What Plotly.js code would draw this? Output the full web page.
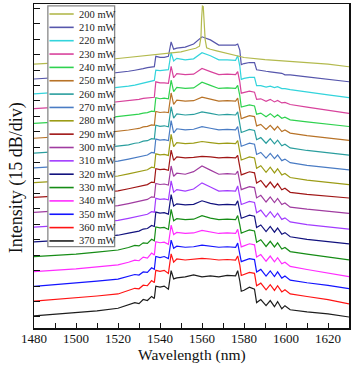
<!DOCTYPE html>
<html>
<head>
<meta charset="utf-8">
<script src="https://cdn.plot.ly/plotly-3.0.1.min.js"></script>
<style>
  body { margin: 0; background: #fff; }
  #spectra { width: 357px; height: 365px; }
</style>
</head>
<body>
<div id="spectra"></div>
<script>
// wavelength grid (nm) shared by 210-370 mW spectra
var wavelength = [1480, 1490, 1500, 1510, 1520, 1525, 1528, 1530, 1532, 1534, 1536, 1537.3, 1538, 1540, 1542, 1544,
  1545.3, 1546.5, 1548, 1552, 1556, 1560, 1564, 1568, 1572, 1576, 1577, 1578, 1578.7, 1580, 1582.6, 1585,
  1586, 1588, 1590.5, 1592.5, 1594.5, 1596, 1598, 1599.5, 1602, 1610, 1620, 1630];

// 200 mW has the lasing line, so its own grid
var wavelength200 = [1480, 1490, 1500, 1510, 1520, 1530, 1540, 1545, 1550, 1554, 1557, 1558.8, 1559.5, 1559.8,
  1560.2, 1560.6, 1561, 1561.5, 1562.2, 1564, 1567, 1570, 1575, 1580, 1590, 1600, 1610, 1620, 1630];

// spectra in dB (before stacking)
var p200 = [-59, -58, -57, -55.5, -53.5, -51.5, -49, -48, -47, -45, -43.5, -41.5, -33, -15, -2.5, -3, -17, -35, -43,
  -44.5, -46, -47.5, -50, -52.5, -54.5, -56, -57.5, -59, -61.5];
var p210 = [-59, -58, -56.5, -55, -53, -51.5, -50.5, -50, -49, -48, -47, -47, -37, -38, -38, -37, -23, -30, -29, -28,
  -25, -18, -21, -26, -26, -26, -25, -31, -45, -44, -43, -43, -50, -51, -51.5, -52, -52.5, -53, -53.5, -55, -55, -57, -59, -61.7];
var p220 = [-59, -58, -56.5, -55, -53, -51.5, -50.5, -49.5, -48.5, -47.5, -46, -46, -36, -36.5, -36, -35.5, -19, -27,
  -24.5, -26, -25, -19, -22, -26, -26, -26.5, -22, -32, -45, -44, -43, -43, -51, -51, -52.5, -51.5, -53, -52, -54, -54, -55, -57.5, -60, -62.7];
var p230 = [-59, -58, -56.5, -54.5, -52.5, -51.5, -50.5, -50, -49, -48.5, -48, -48, -33, -34, -34, -34.5, -18, -29,
  -25, -26, -25.5, -20, -23, -26, -25.5, -26, -23, -33, -44, -43.5, -42, -43, -50, -49.5, -52, -50, -52.5, -51, -53.5, -53, -55, -57.5, -60.5, -63.7];
var p240 = [-59, -58, -56.5, -54.5, -52.5, -51.5, -50.5, -50, -49, -48.5, -47, -47.5, -34, -35, -34.5, -35, -17, -28,
  -24, -25, -24.5, -19, -22, -25, -24.5, -25, -22, -32, -43, -42.5, -41, -42, -50, -49, -52.5, -49.5, -53, -50.5, -54, -53, -55.5, -57.5, -60, -62];
var p250 = [-59, -58, -56.5, -54.5, -52.5, -51, -50, -49.5, -48, -47.5, -46, -46.5, -33, -34, -33.5, -34, -15, -26,
  -22, -23, -22.5, -19, -21, -23, -22.5, -23, -20, -30, -40, -39, -37, -38, -47, -45.5, -50.5, -46.5, -51, -47.5, -52.5, -51, -54, -56.5, -59, -61];
var p260 = [-59, -58, -56.5, -54.5, -52.5, -51, -49.5, -49, -47.5, -47, -45, -45.5, -32, -33, -32.5, -33.5, -14, -25,
  -21, -22, -21.5, -19, -20.5, -22, -21.5, -22, -19, -29, -39, -38, -36, -37, -46, -44, -49.5, -45, -50, -46.5, -52, -50.5, -54, -56.5, -59, -61];
var p270 = [-59, -58, -56.5, -54.5, -52.5, -50.5, -49, -48.5, -47, -46.5, -44, -44.5, -31, -32, -31.5, -32.5, -13, -25,
  -21, -22, -21.5, -19, -20.5, -22, -21.5, -22, -19, -29, -38, -37, -35, -36, -46, -44, -49.5, -45, -50, -46.5, -52, -50.5, -54, -56.5, -59, -61];
var p280 = [-59, -58, -56.5, -54.5, -52.5, -50.5, -49, -48.5, -47, -46.5, -44, -44.5, -31, -32, -31.5, -32.5, -12, -24,
  -20, -21, -20.5, -19, -20, -21, -20.5, -21, -18, -28, -37, -36, -34, -35, -45, -42.5, -49, -44, -49.5, -45.5, -51.5, -50, -54, -56.5, -59, -61];
var p290 = [-59, -58, -56.5, -54.5, -52.5, -50.5, -49, -48.5, -47, -46.5, -44, -44.5, -31, -32, -31.5, -32.5, -13, -23,
  -19.5, -20.5, -20, -19, -19.5, -20.5, -20, -20.5, -18, -28, -37, -36, -34, -35, -45, -42.5, -49, -44, -49.5, -45.5, -51.5, -50, -54, -56, -58, -59.5];
var p300 = [-59, -58, -56.5, -54.5, -52.5, -50.5, -49, -48.5, -47, -46.5, -44, -44.5, -31, -32, -31.5, -32.5, -14, -24,
  -21, -22, -19.5, -14, -18, -22, -21.5, -22, -19, -29, -37, -36, -34, -35, -45, -42.5, -49, -44, -49.5, -45.5, -51.5, -50, -54, -56, -58, -60];
var p310 = [-59, -58, -56.5, -54.5, -52.5, -50.5, -49, -48.5, -47, -46.5, -44, -44.5, -31, -32, -31.5, -32.5, -14, -25,
  -22.5, -24, -22, -16, -20, -24, -23.5, -24, -19, -29, -37, -36, -34, -35, -45, -42.5, -49, -44, -49.5, -45.5, -51.5, -50, -54, -56.5, -59, -61];
var p320 = [-59, -58, -56.5, -54.5, -52.5, -50.5, -49, -48.5, -46.5, -46, -43, -44, -30, -31, -30.5, -32, -13, -24,
  -22, -23, -22.5, -19, -21.5, -23, -22.5, -23, -19, -28, -36, -35, -33, -34, -45, -42.5, -49, -44, -49.5, -45.5, -51.5, -50, -54, -56.5, -59, -61];
var p330 = [-59, -58, -56.5, -54.5, -52.5, -50, -48, -48.5, -45.5, -46, -42, -43.5, -30, -31, -30.5, -32.5, -13, -24,
  -22, -23, -22.5, -19, -21.5, -23, -22.5, -23, -19, -28, -36, -35, -33, -34, -45, -42.5, -49, -44, -49.5, -45.5, -51.5, -50, -54, -56.5, -59, -62];
var p340 = [-59, -58, -56.5, -54.5, -52.5, -50, -48, -48.5, -45, -46, -41, -43, -30, -31, -30.5, -32.5, -14, -23,
  -21, -22, -21.5, -19, -20.5, -22, -21.5, -22, -18, -27, -35, -34, -32, -33, -45, -42.5, -49, -44, -49.5, -45.5, -51.5, -50, -54, -57, -60.5, -64];
var p350 = [-59, -57.5, -56, -54, -52, -49.5, -47.5, -48, -45, -45.5, -41, -42.5, -30, -31, -30, -32, -14, -22,
  -20, -21, -20.5, -19, -20, -21, -20.5, -21, -17, -26, -35, -34, -32, -33, -45, -42.5, -49, -44, -49.5, -45, -51, -49, -53, -55.5, -58, -61.3];
var p360 = [-59, -57.5, -56, -54, -52, -49, -46.5, -47, -43.5, -44, -39, -41, -29, -30, -29, -32, -13, -21,
  -18, -19, -18.5, -17.5, -18, -19, -18.5, -19, -15, -24, -34, -33, -31, -32, -44, -41.5, -48, -43, -48.5, -44, -50, -48, -52, -54.5, -57.5, -61.6];
var p370 = [-59, -57.5, -56, -54, -51.5, -48, -46, -47, -43, -44, -40, -42, -30, -31, -30, -33, -15, -23,
  -22, -21, -19, -21, -20, -21, -19.5, -20, -15, -25, -35, -34, -31, -33, -46, -43, -49, -44, -50, -45, -52, -49, -53, -55, -57, -60];

var powers = ['200 mW', '210 mW', '220 mW', '230 mW', '240 mW', '250 mW', '260 mW', '270 mW', '280 mW',
  '290 mW', '300 mW', '310 mW', '320 mW', '330 mW', '340 mW', '350 mW', '360 mW', '370 mW'];
var spectra = [p200, p210, p220, p230, p240, p250, p260, p270, p280, p290, p300, p310, p320, p330, p340, p350, p360, p370];
var colors = ['#b3ba4e', '#5656ac', '#33d4dc', '#d8439c', '#2fd24f', '#b87328', '#2a9e9e', '#4a7cc4', '#9c9c16',
  '#a01616', '#a03ca0', '#a23cff', '#12127e', '#168c16', '#ff2cff', '#1414ff', '#ff1414', '#1e1e1e'];

var offsetStep = 14.4;   // dB shift between neighbouring curves
var serif = 'Liberation Serif, Times New Roman, serif';

var data = [];
var shapes = [];
var annotations = [];

for (var i = spectra.length - 1; i >= 0; i--) {
  var shift = (spectra.length - 1 - i) * offsetStep;
  data.push({
    type: 'scatter',
    mode: 'lines',
    name: powers[i],
    x: i === 0 ? wavelength200 : wavelength,
    y: spectra[i].map(function (v) { return v + shift; }),
    line: { color: colors[i], width: 1.2 },
    hoverinfo: 'x+name'
  });
}

// hand-made legend box (plotly's own rows are too tall for 18 entries)
shapes.push({
  type: 'rect', xref: 'paper', yref: 'paper', layer: 'above',
  x0: 0.044, x1: 0.256, y0: 0.251, y1: 0.994,
  fillcolor: 'white', line: { color: '#888', width: 1.3 }
});
for (var j = 0; j < powers.length; j++) {
  var ly = (314 - 13.35 * j) / 324;
  shapes.push({
    type: 'line', xref: 'paper', yref: 'paper', layer: 'above',
    x0: 0.049, x1: 0.126, y0: ly, y1: ly,
    line: { color: colors[j], width: 1.6 }
  });
  annotations.push({
    xref: 'paper', yref: 'paper', x: 0.135, y: ly, xanchor: 'left', yanchor: 'middle',
    text: powers[j], showarrow: false, font: { family: serif, size: 10.5, color: '#222' }
  });
}

// axis titles
annotations.push({
  xref: 'paper', yref: 'paper', x: -0.053, y: 0.463, xanchor: 'center', yanchor: 'middle',
  textangle: -90, text: 'Intensity (15 dB/div)', showarrow: false,
  font: { family: serif, size: 18, color: '#111' }
});
annotations.push({
  xref: 'paper', yref: 'paper', x: 0.5, y: -0.113, xanchor: 'center', yanchor: 'bottom',
  text: 'Wavelength (nm)', showarrow: false, borderpad: 0,
  font: { family: serif, size: 15.5, color: '#111' }
});

var layout = {
  width: 357,
  height: 365,
  margin: { l: 34, r: 8, t: 4, b: 37 },
  paper_bgcolor: 'white',
  plot_bgcolor: 'white',
  showlegend: false,
  font: { family: serif, color: '#111' },
  xaxis: {
    range: [1480, 1630],
    tick0: 1480, dtick: 20,
    ticks: 'inside', ticklen: 5, tickwidth: 1, tickcolor: '#111',
    minor: { dtick: 10, ticks: 'inside', ticklen: 5, tickcolor: '#111' },
    showline: true, mirror: true, linecolor: '#111', linewidth: 1.5,
    showgrid: false, zeroline: false,
    ticklabelstandoff: -2,
    tickfont: { family: serif, size: 13 }
  },
  yaxis: {
    range: [-70.7, 244.3],
    tick0: -60, dtick: 15,
    ticks: 'inside', ticklen: 6, tickcolor: '#111',
    showticklabels: false,
    showline: true, mirror: true, linecolor: '#111', linewidth: 1.5,
    showgrid: false, zeroline: false
  },
  shapes: shapes,
  annotations: annotations
};

Plotly.newPlot('spectra', data, layout, { displayModeBar: false, staticPlot: true });
</script>
</body>
</html>
